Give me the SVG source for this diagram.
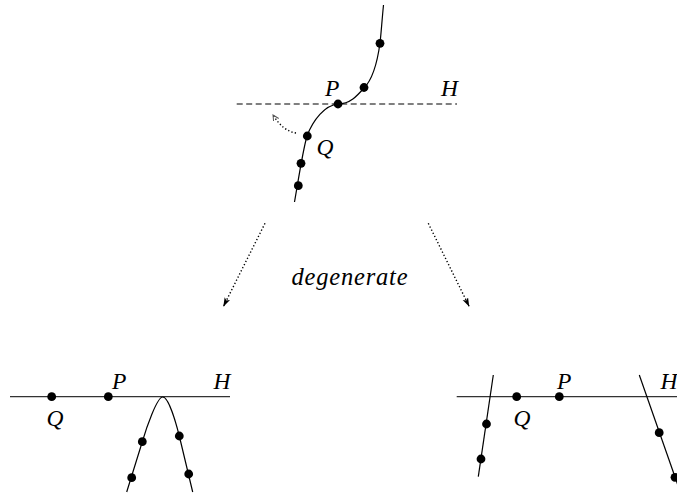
<svg xmlns="http://www.w3.org/2000/svg" width="677" height="499" viewBox="0 0 677 499">
<style>
.ln{fill:none;stroke:#000;stroke-width:1.2}
.hz{fill:none;stroke:#333;stroke-width:1.2}
.dash{fill:none;stroke:#000;stroke-width:1.2;stroke-dasharray:6 3.5}
.dot{fill:none;stroke:#000;stroke-width:1.4;stroke-dasharray:1.3 2.2}
.pt{fill:#000}
.lbl{font-family:"Liberation Serif","Times New Roman",serif;font-style:italic;font-size:23.5px;fill:#000}
</style>
<defs>
<marker id="ah" markerUnits="userSpaceOnUse" markerWidth="12" markerHeight="8" refX="9" refY="3" orient="auto">
<path d="M0,0 L9,3 L0,6 L2,3 Z" fill="#000"/>
</marker>
<marker id="ah2" markerUnits="userSpaceOnUse" markerWidth="10" markerHeight="8" refX="6" refY="3" orient="auto">
<path d="M0,0 L6,3 L0,6" fill="none" stroke="#555" stroke-width="1"/>
</marker>
</defs>
<g id="top">
<line class="dash" x1="236.7" y1="104" x2="457" y2="104"/>
<path class="ln" d="M383.5,5 C382,20 381,35 380,43 C377,65 372,80 364,88 C357,96 350,104 338,104 C325,105 313,120 307,136 C303,150 300,170 294.5,202"/>
<circle class="pt" cx="380" cy="43.3" r="4.4"/>
<circle class="pt" cx="364" cy="87.5" r="4.4"/>
<circle class="pt" cx="338" cy="104" r="4.4"/>
<circle class="pt" cx="307.3" cy="136" r="4.4"/>
<circle class="pt" cx="301" cy="163.3" r="4.4"/>
<circle class="pt" cx="298.3" cy="185.7" r="4.4"/>
<path class="dot" d="M296,133 Q283,131 273,115" marker-end="url(#ah2)"/>
<text class="lbl" x="325" y="96">P</text>
<text class="lbl" x="441" y="96">H</text>
<text class="lbl" x="316.5" y="155">Q</text>
</g>
<g id="left">
<line class="hz" x1="10" y1="396.7" x2="230" y2="396.7"/>
<path class="ln" d="M126.7,492 L142.3,441.7 C146.3,428 157,397 162.7,397 C168.5,397 175.8,422 179.3,436 L192.7,492"/>
<circle class="pt" cx="51.7" cy="396.7" r="4.4"/>
<circle class="pt" cx="108.3" cy="396.7" r="4.4"/>
<circle class="pt" cx="142.3" cy="441.7" r="4.4"/>
<circle class="pt" cx="131.7" cy="477.7" r="4.4"/>
<circle class="pt" cx="179.3" cy="436" r="4.4"/>
<circle class="pt" cx="188.7" cy="474" r="4.4"/>
<text class="lbl" x="46.5" y="426">Q</text>
<text class="lbl" x="112" y="389">P</text>
<text class="lbl" x="213.5" y="389">H</text>
</g>
<g id="right">
<line class="hz" x1="456.7" y1="396.7" x2="677" y2="396.7"/>
<line class="ln" x1="493.3" y1="375" x2="478.3" y2="476.7"/>
<line class="ln" x1="639.3" y1="375" x2="681" y2="494"/>
<circle class="pt" cx="516.7" cy="396.7" r="4.4"/>
<circle class="pt" cx="559.3" cy="396.7" r="4.4"/>
<circle class="pt" cx="486.5" cy="424" r="4.4"/>
<circle class="pt" cx="481" cy="459" r="4.4"/>
<circle class="pt" cx="659.2" cy="432.7" r="4.4"/>
<circle class="pt" cx="675" cy="477.3" r="4.4"/>
<text class="lbl" x="513.5" y="426">Q</text>
<text class="lbl" x="557" y="389">P</text>
<text class="lbl" x="660.5" y="389">H</text>
</g>
<g id="connectors">
<line class="dot" x1="265" y1="223.3" x2="223.3" y2="306.7" marker-end="url(#ah)"/>
<line class="dot" x1="428.3" y1="223.3" x2="469.3" y2="306.7" marker-end="url(#ah)"/>
</g>
<g id="label">
<text class="lbl" x="291.5" y="284.5" style="font-size:24.5px" textLength="116" lengthAdjust="spacing">degenerate</text>
</g>
</svg>
